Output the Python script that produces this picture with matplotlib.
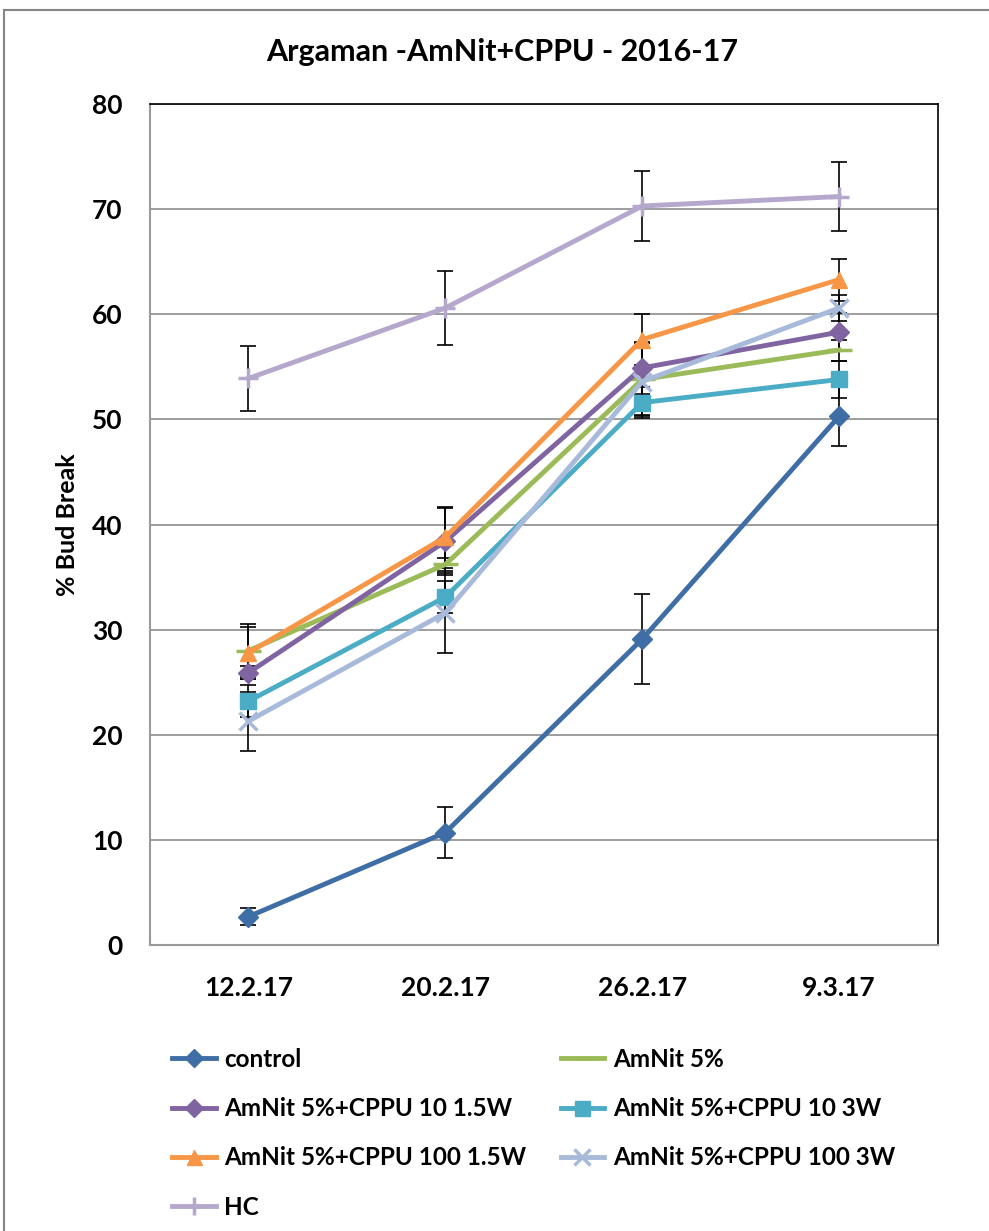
import matplotlib
matplotlib.use("Agg")
import matplotlib.pyplot as plt
from matplotlib.lines import Line2D

plt.rcParams['font.family'] = ['Lato', 'DejaVu Sans']
plt.rcParams['font.weight'] = 'bold'

# data
dates = ["12.2.17", "20.2.17", "26.2.17", "9.3.17"]

control = [2.7, 10.7, 29.1, 50.3]
control_err = [0.8, 2.4, 4.3, 2.8]
amnit = [28.0, 36.2, 53.8, 56.6]
amnit_err = [2.5, 0.6, 3.5, 1.0]
cppu10_15 = [25.9, 38.4, 54.9, 58.3]
cppu10_15_err = [0.6, 3.2, 2.5, 1.8]
cppu10_3 = [23.2, 33.1, 51.6, 53.8]
cppu10_3_err = [1.5, 1.5, 1.5, 1.8]
cppu100_15 = [27.8, 38.8, 57.6, 63.3]
cppu100_15_err = [2.5, 2.9, 2.4, 2.0]
cppu100_3 = [21.3, 31.6, 53.6, 60.6]
cppu100_3_err = [2.8, 3.8, 3.2, 1.2]
hc = [53.9, 60.6, 70.3, 71.2]
hc_err = [3.1, 3.5, 3.3, 3.3]

names = ["control", "AmNit 5%", "AmNit 5%+CPPU 10 1.5W", "AmNit 5%+CPPU 10 3W",
         "AmNit 5%+CPPU 100 1.5W", "AmNit 5%+CPPU 100 3W", "HC"]
values = [control, amnit, cppu10_15, cppu10_3, cppu100_15, cppu100_3, hc]
errors = [control_err, amnit_err, cppu10_15_err, cppu10_3_err, cppu100_15_err, cppu100_3_err, hc_err]
colors = ["#3F6DA5", "#9BBB59", "#8064A2", "#4BACC6", "#F79646", "#A8BADA", "#B5A8CC"]
markers = ["D", "_", "D", "s", "^", "x", "+"]
msizes = [10, 18, 10, 12, 12, 13, 15]

fig = plt.figure(figsize=(9.89, 12.31), dpi=100)
# outer chart border
fig.add_artist(plt.Rectangle((0.004, -0.01), 1.2, 1.002, transform=fig.transFigure,
                             fill=False, edgecolor="#868686", linewidth=1.5))

ax = fig.add_axes([0.1517, 0.2323, 0.7963, 0.6832])
x = list(range(len(dates)))

# draw HC first so others sit on top
order = [6, 0, 1, 2, 3, 4, 5]
for i in order:
    ax.errorbar(x, values[i], yerr=errors[i], fmt='none', ecolor='black',
                elinewidth=1.2, capsize=6, capthick=1.2, zorder=3)
for i in order:
    ax.plot(x, values[i], color=colors[i], linewidth=3.5, marker=markers[i],
            markersize=msizes[i], markeredgewidth=2.5 if markers[i] in "x+_" else 1,
            markeredgecolor=colors[i], zorder=4)

ax.set_xlim(-0.5, 3.5)
ax.set_ylim(0, 80)
ax.set_yticks(range(0, 81, 10))
ax.set_xticks(x)
ax.set_xticklabels(dates)
ax.tick_params(axis='both', length=0, labelsize=19)
ax.tick_params(axis='x', pad=22)
ax.tick_params(axis='y', pad=20)
ax.grid(axis='y', color='#8c8c8c', linewidth=1.2)
ax.set_axisbelow(True)
for s in ["left", "bottom"]:
    ax.spines[s].set_color('#9a9a9a')
    ax.spines[s].set_linewidth(1.5)
for s in ["top", "right"]:
    ax.spines[s].set_color('black')
    ax.spines[s].set_linewidth(1.2)

ax.set_ylabel("% Bud Break", fontsize=18, fontweight='bold', labelpad=9)
fig.text(0.508, 0.958, "Argaman -AmNit+CPPU - 2016-17", ha='center', va='center',
         fontsize=22, fontweight='bold')

# legend filled column by column, matching the two-column layout
leg_order = [0, 2, 4, 6, 1, 3, 5]
leg_handles = [Line2D([0], [0], color=colors[i], linewidth=3.5, marker=markers[i],
                      markersize=msizes[i] * 0.9, markeredgecolor=colors[i],
                      markeredgewidth=2.5 if markers[i] in "x+_" else 1)
               for i in leg_order]
fig.legend(leg_handles, [names[i] for i in leg_order], loc='upper left',
           bbox_to_anchor=(0.152, 0.1665), ncol=2, frameon=False, fontsize=17.5,
           handlelength=1.8, handletextpad=0.35, columnspacing=1.4, labelspacing=1.08)

fig.savefig("out.png", dpi=100)
